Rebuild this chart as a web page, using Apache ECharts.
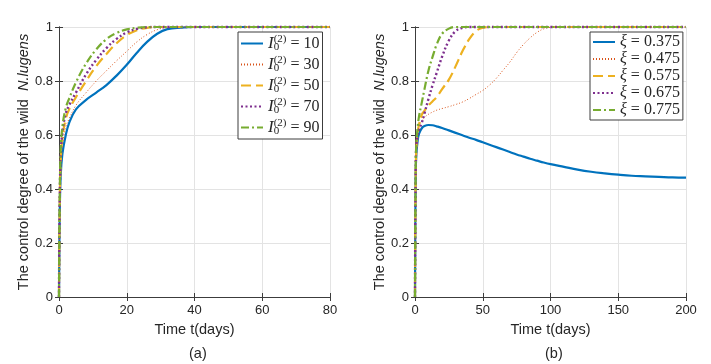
<!DOCTYPE html>
<html>
<head>
<meta charset="utf-8">
<script src="https://cdn.jsdelivr.net/npm/echarts@6/dist/echarts.min.js"></script>
<style>
  html, body { margin: 0; padding: 0; background: #fff; }
  #chart { width: 711px; height: 364px; }
</style>
</head>
<body>
<div id="chart"></div>
<script>
// 数据 (a) 不同初始值 I0(2)
const timeA = [0, 0.2, 0.5, 1, 2, 3, 5, 8, 11, 14, 17, 20, 23, 26, 29, 32, 36, 40, 50, 60, 70, 80]
const i10 = [0, 0.3, 0.45, 0.53, 0.6, 0.645, 0.695, 0.73, 0.757, 0.785, 0.82, 0.86, 0.905, 0.945, 0.975, 0.992, 0.998, 1, 1, 1, 1, 1]
const i30 = [0, 0.32, 0.48, 0.56, 0.63, 0.66, 0.71, 0.757, 0.8, 0.838, 0.875, 0.91, 0.945, 0.972, 0.99, 0.998, 1, 1, 1, 1, 1, 1]
const i50 = [0, 0.33, 0.5, 0.59, 0.66, 0.695, 0.74, 0.8, 0.855, 0.9, 0.94, 0.97, 0.988, 0.997, 1, 1, 1, 1, 1, 1, 1, 1]
const i70 = [0, 0.34, 0.52, 0.61, 0.68, 0.71, 0.757, 0.825, 0.878, 0.922, 0.956, 0.98, 0.993, 0.999, 1, 1, 1, 1, 1, 1, 1, 1]
const i90 = [0, 0.35, 0.54, 0.63, 0.7, 0.735, 0.795, 0.865, 0.917, 0.955, 0.978, 0.991, 0.997, 1, 1, 1, 1, 1, 1, 1, 1, 1]
const labelsA = ['10', '30', '50', '70', '90']

// 数据 (b) 不同 ξ
const timeB = [0, 0.5, 1, 2, 3, 5, 7, 10, 13, 16, 20, 25, 30, 35, 40, 45, 50, 55, 60, 65, 70, 75, 80, 85, 90, 95, 100, 110, 120, 130, 140, 150, 160, 170, 180, 190, 200]
const xi375 = [0, 0.45, 0.53, 0.58, 0.605, 0.625, 0.633, 0.637, 0.636, 0.632, 0.626, 0.617, 0.608, 0.599, 0.59, 0.582, 0.573, 0.564, 0.555, 0.546, 0.537, 0.528, 0.52, 0.512, 0.505, 0.498, 0.492, 0.482, 0.472, 0.464, 0.458, 0.453, 0.449, 0.447, 0.445, 0.443, 0.442]
const xi475 = [0, 0.45, 0.53, 0.6, 0.63, 0.653, 0.665, 0.677, 0.685, 0.692, 0.698, 0.705, 0.713, 0.722, 0.735, 0.75, 0.765, 0.785, 0.81, 0.84, 0.87, 0.905, 0.935, 0.96, 0.98, 0.993, 0.999, 1, 1, 1, 1, 1, 1, 1, 1, 1, 1]
const xi575 = [0, 0.46, 0.55, 0.61, 0.64, 0.675, 0.69, 0.71, 0.725, 0.74, 0.77, 0.805, 0.855, 0.91, 0.955, 0.985, 0.997, 1, 1, 1, 1, 1, 1, 1, 1, 1, 1, 1, 1, 1, 1, 1, 1, 1, 1, 1, 1]
const xi675 = [0, 0.47, 0.56, 0.6, 0.62, 0.645, 0.68, 0.735, 0.785, 0.83, 0.89, 0.95, 0.985, 0.997, 1, 1, 1, 1, 1, 1, 1, 1, 1, 1, 1, 1, 1, 1, 1, 1, 1, 1, 1, 1, 1, 1, 1]
const xi775 = [0, 0.48, 0.57, 0.63, 0.67, 0.72, 0.77, 0.84, 0.89, 0.935, 0.975, 0.994, 1, 1, 1, 1, 1, 1, 1, 1, 1, 1, 1, 1, 1, 1, 1, 1, 1, 1, 1, 1, 1, 1, 1, 1, 1]
const labelsB = ['0.375', '0.475', '0.575', '0.675', '0.775']

const COLORS = ['#0072BD', '#D95319', '#EDB120', '#7E2F8E', '#77AC30']
const STYLES = [
  { width: 2.2, type: 'solid' },
  { width: 1, type: [1, 2] },
  { width: 2.2, type: [10, 5] },
  { width: 2.4, type: [2, 2.5] },
  { width: 2.2, type: [8, 3, 2, 3] },
]
const AXIS_COLOR = '#3c3c3c'
const TEXT_COLOR = '#262626'
const SANS = '"Liberation Sans", Arial, sans-serif'
const SERIF = '"Liberation Serif", "DejaVu Serif", serif'

const zip = (xs, ys) => xs.map((x, i) => [x, ys[i]])

const chart = echarts.init(document.getElementById('chart'), null, { renderer: 'canvas' })

const grids = [
  { left: 59, right: 381, top: 27, bottom: 67 },
  { left: 415, right: 25, top: 27, bottom: 67 },
]

function xAxes(gridIndex, max, interval) {
  return [
    {
      type: 'value', gridIndex, min: 0, max, interval,
      name: 'Time t(days)', nameLocation: 'middle', nameGap: 25,
      nameTextStyle: { fontFamily: SANS, fontSize: 14.5, color: TEXT_COLOR },
      axisLine: { show: true, lineStyle: { color: AXIS_COLOR, width: 1 } },
      axisTick: { show: true, inside: true, length: 4, lineStyle: { color: AXIS_COLOR } },
      axisLabel: { fontFamily: SANS, fontSize: 13, color: TEXT_COLOR, margin: 7 },
      splitLine: { show: true, lineStyle: { color: '#e3e3e3', width: 1 } },
    },
    {
      type: 'value', gridIndex, min: 0, max, interval, position: 'top',
      axisLine: { show: true, lineStyle: { color: AXIS_COLOR, width: 1 } },
      axisTick: { show: true, inside: true, length: 4, lineStyle: { color: AXIS_COLOR } },
      axisLabel: { show: false },
      splitLine: { show: false },
    },
  ]
}

function yAxes(gridIndex) {
  return [
    {
      type: 'value', gridIndex, min: 0, max: 1, interval: 0.2,
      name: 'The control degree of the wild  {i|N.lugens}',
      nameLocation: 'middle', nameGap: 25,
      nameTextStyle: {
        fontFamily: SANS, fontSize: 14.5, color: TEXT_COLOR,
        rich: { i: { fontFamily: SANS, fontSize: 14.5, fontStyle: 'italic', color: TEXT_COLOR } },
      },
      axisLine: { show: true, lineStyle: { color: AXIS_COLOR, width: 1 } },
      axisTick: { show: true, inside: true, length: 4, lineStyle: { color: AXIS_COLOR } },
      axisLabel: { fontFamily: SANS, fontSize: 13, color: TEXT_COLOR, margin: 6 },
      splitLine: { show: true, lineStyle: { color: '#e3e3e3', width: 1 } },
    },
    {
      type: 'value', gridIndex, min: 0, max: 1, interval: 0.2, position: 'right',
      axisLine: { show: true, lineStyle: { color: AXIS_COLOR, width: 1 } },
      axisTick: { show: true, inside: true, length: 4, lineStyle: { color: AXIS_COLOR } },
      axisLabel: { show: false },
      splitLine: { show: false },
    },
  ]
}

function makeSeries(prefix, time, rows, xAxisIndex, yAxisIndex) {
  return rows.map((ys, k) => ({
    name: prefix + k,
    type: 'line',
    xAxisIndex,
    yAxisIndex,
    data: zip(time, ys),
    symbol: 'none',
    smooth: 0.4,
    clip: false,
    color: COLORS[k],
    lineStyle: { color: COLORS[k], width: STYLES[k].width, type: STYLES[k].type },
    z: 2 + k,
  }))
}

const seriesA = makeSeries('a', timeA, [i10, i30, i50, i70, i90], 0, 0)
const seriesB = makeSeries('b', timeB, [xi375, xi475, xi575, xi675, xi775], 2, 2)

const legendBase = {
  orient: 'vertical',
  itemWidth: 22,
  itemHeight: 10,
  backgroundColor: '#fff',
  borderColor: AXIS_COLOR,
  borderWidth: 1,
  borderRadius: 0,
  selectedMode: false,
  itemStyle: { opacity: 0 },
}

const option = {
  animation: false,
  grid: grids,
  xAxis: [...xAxes(0, 80, 20), ...xAxes(1, 200, 50)],
  yAxis: [...yAxes(0), ...yAxes(1)],
  title: [
    { text: '(a)', left: 184, top: 341, textStyle: { fontFamily: SANS, fontSize: 14.5, fontWeight: 'normal', color: TEXT_COLOR } },
    { text: '(b)', left: 540, top: 341, textStyle: { fontFamily: SANS, fontSize: 14.5, fontWeight: 'normal', color: TEXT_COLOR } },
  ],
  legend: [
    {
      ...legendBase,
      left: 238, top: 32,
      padding: [2, 3, 2, 2],
      itemGap: 2,
      data: seriesA.map(s => s.name),
      formatter: name => '{i|I}{sub|0}{sup|(2)}{eq| = ' + labelsA[+name.slice(1)] + '}',
      textStyle: {
        color: TEXT_COLOR,
        rich: {
          i: { fontFamily: SERIF, fontStyle: 'italic', fontSize: 17, lineHeight: 19, verticalAlign: 'middle' },
          sub: { fontFamily: SERIF, fontSize: 11, lineHeight: 10, verticalAlign: 'bottom', width: 0 },
          sup: { fontFamily: SERIF, fontSize: 11, lineHeight: 10, verticalAlign: 'top' },
          eq: { fontFamily: SERIF, fontSize: 16, lineHeight: 19, verticalAlign: 'middle' },
        },
      },
    },
    {
      ...legendBase,
      left: 590, top: 32,
      padding: [2, 3, 2, 2],
      itemGap: 1,
      data: seriesB.map(s => s.name),
      formatter: name => '{x|ξ}{eq| = ' + labelsB[+name.slice(1)] + '}',
      textStyle: {
        color: TEXT_COLOR,
        rich: {
          x: { fontFamily: SERIF, fontStyle: 'italic', fontSize: 16, lineHeight: 18 },
          eq: { fontFamily: SERIF, fontSize: 16, lineHeight: 18 },
        },
      },
    },
  ],
  series: [...seriesA, ...seriesB],
}

chart.setOption(option)
</script>
</body>
</html>
